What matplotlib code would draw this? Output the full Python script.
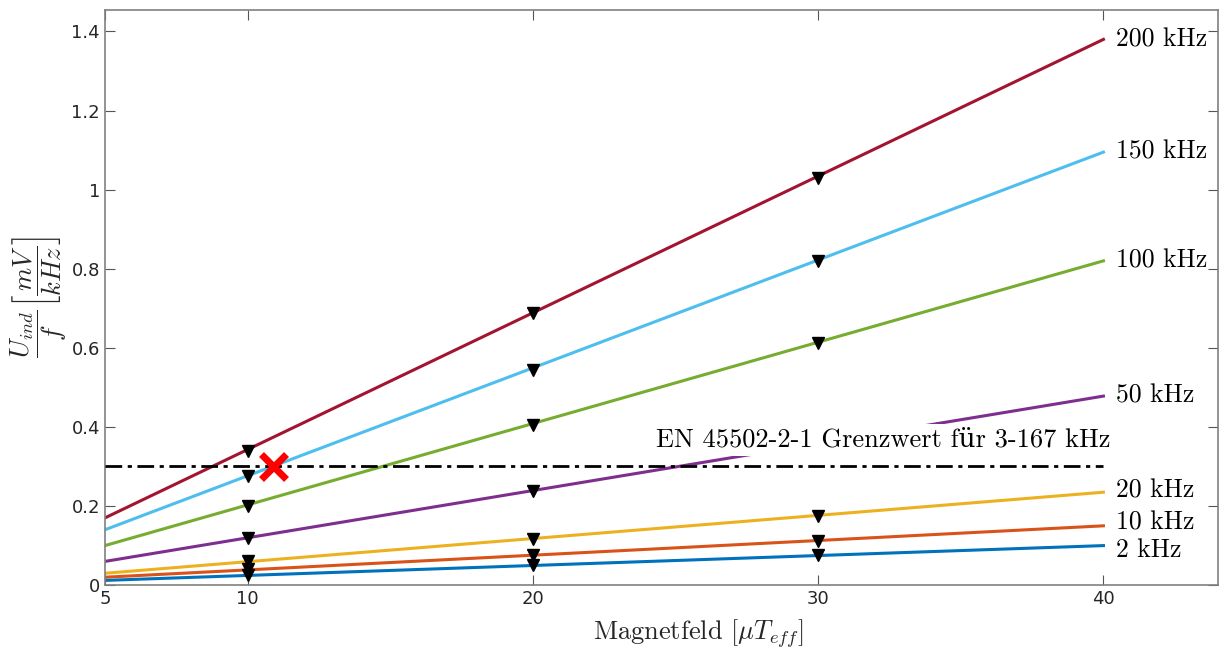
import matplotlib
matplotlib.use("Agg")
import matplotlib.pyplot as plt

plt.rcParams['mathtext.fontset'] = 'cm'

# frequencies and line endpoints (value at 5 and 40 uT)
labels = ['2 kHz', '10 kHz', '20 kHz', '50 kHz', '100 kHz', '150 kHz', '200 kHz']
colors = ['#0072BD', '#D95319', '#EDB120', '#7E2F8E', '#77AC30', '#4DBEEE', '#A2142F']
x_line = [5, 40]
y_start = [0.012, 0.020, 0.030, 0.060, 0.100, 0.140, 0.170]
y_end = [0.100, 0.150, 0.235, 0.478, 0.820, 1.095, 1.380]
# small vertical nudges for the end labels so they do not collide
label_nudge = [-0.011, 0.008, 0.003, 0.0, 0.0, 0.0, 0.0]

# measured points
meas_x = {
    '2 kHz': [10, 20, 30],
    '10 kHz': [10, 20, 30],
    '20 kHz': [10, 20, 30],
    '50 kHz': [10, 20],
    '100 kHz': [10, 20, 30],
    '150 kHz': [10, 20, 30],
    '200 kHz': [10, 20, 30],
}
meas_y = {
    '2 kHz': [0.025, 0.050, 0.075],
    '10 kHz': [0.040, 0.075, 0.112],
    '20 kHz': [0.060, 0.117, 0.175],
    '50 kHz': [0.120, 0.238],
    '100 kHz': [0.200, 0.405, 0.613],
    '150 kHz': [0.275, 0.545, 0.820],
    '200 kHz': [0.340, 0.688, 1.030],
}

limit_x = [5, 40]
limit_y = [0.3, 0.3]
cross_x = 10.9
cross_y = 0.3

fig = plt.figure(figsize=(12.2, 6.48), dpi=100)
ax = fig.add_axes([0.086, 0.097, 0.912, 0.888])

serif = ['cmr10', 'DejaVu Serif']

for lab, c, y0, y1, dy in zip(labels, colors, y_start, y_end, label_nudge):
    ax.plot(x_line, [y0, y1], color=c, lw=2.2, zorder=2)
    ax.plot(meas_x[lab], meas_y[lab], linestyle='none', marker='v', color='black',
            markersize=8, zorder=4)
    ax.text(40.45, y1 + dy, lab, family=serif, fontsize=18.5, va='center', ha='left', zorder=5)

ax.plot(limit_x, limit_y, color='black', lw=2, linestyle=(0, (6, 2, 1.5, 2)), zorder=4)
ax.text(24.3, 0.368, 'EN 45502-2-1 Grenzwert für 3-167 kHz', family=serif, fontsize=19,
        va='center', ha='left', zorder=3,
        bbox=dict(facecolor='white', edgecolor='none', pad=3))
ax.plot(cross_x, cross_y, marker='x', color='red', markersize=18, mew=5, zorder=6)

ax.set_xlim(5, 44)
ax.set_ylim(0, 1.455)
ax.set_xticks([5, 10, 20, 30, 40])
ax.set_xticklabels(['5', '10', '20', '30', '40'])
ax.set_yticks([0, 0.2, 0.4, 0.6, 0.8, 1.0, 1.2, 1.4])
ax.set_yticklabels(['0', '0.2', '0.4', '0.6', '0.8', '1', '1.2', '1.4'])
ax.tick_params(direction='in', top=True, right=True, length=7, color='#555555',
               labelsize=13, labelcolor='#262626')
for s in ax.spines.values():
    s.set_color('#808080')
    s.set_linewidth(1.2)

ax.set_xlabel(r'Magnetfeld $[\mu T_{eff}]$', family=serif, fontsize=19, color='#262626')
ax.xaxis.set_label_coords(0.533, -0.055)
ax.set_ylabel(r'$\dfrac{U_{ind}}{f}\left[\dfrac{mV}{kHz}\right]$', fontsize=19, color='#262626',
              labelpad=2)

fig.savefig('out.png', dpi=100)
